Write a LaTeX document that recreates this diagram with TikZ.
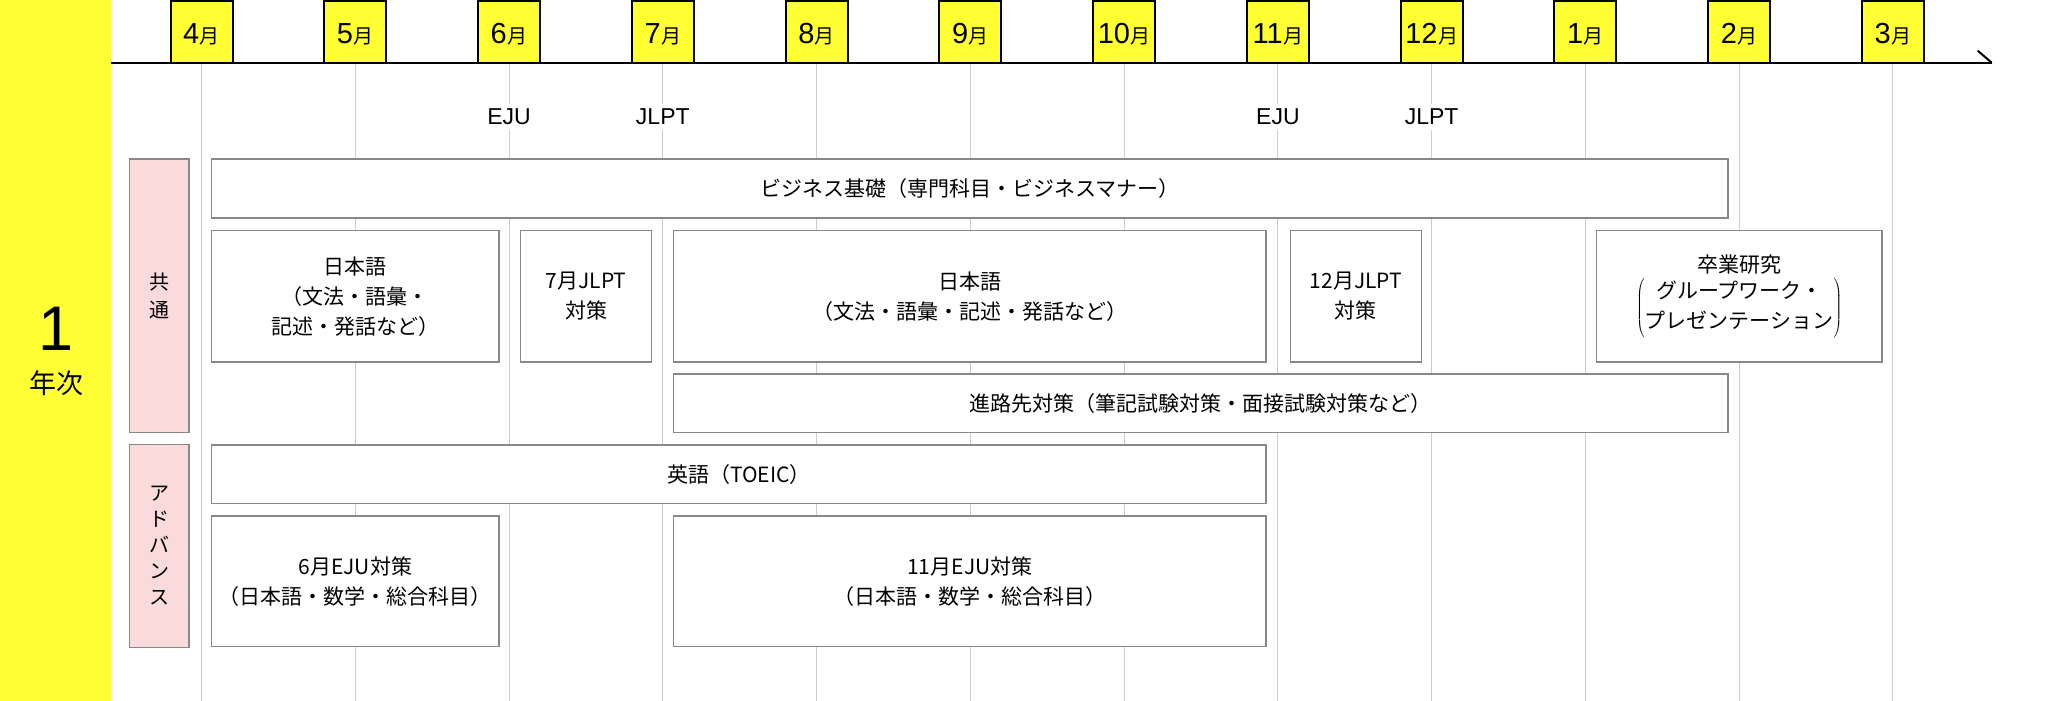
\documentclass[tikz,border=0pt]{standalone}
\usepackage{fontspec}
\setmainfont{Noto Sans CJK JP}
\newfontfamily\latinfont{Liberation Sans}
\definecolor{bandyellow}{RGB}{255,255,51}
\definecolor{pinkfill}{RGB}{250,218,218}
\definecolor{boxgray}{RGB}{136,136,136}
\definecolor{gridgray}{RGB}{204,204,204}
\begin{document}
\begin{tikzpicture}[x=1pt,y=-1pt,
  gridline/.style={draw=gridgray,line width=1pt},
  axisline/.style={draw=black,line width=2pt},
  monbox/.style={draw=black,line width=2pt,fill=bandyellow,minimum width=62pt,minimum height=61.9pt,inner sep=0pt,text height=23.1pt,text depth=0pt},
  evlabel/.style={fill=white,inner sep=5pt,font=\latinfont\fontsize{23}{23}\selectfont},
  box/.style={draw=boxgray,line width=1.5pt,fill=white,inner sep=0pt,align=center,font=\fontsize{21}{30}\selectfont},
  pinkbox/.style={draw=boxgray,line width=1.5pt,fill=pinkfill,inner sep=0pt,align=center,minimum width=59.5pt}
]
\useasboundingbox (0,0) rectangle (2072,701);
\fill[white] (0,0) rectangle (2072,701);
% left band
\fill[bandyellow] (0,0) rectangle (110.7,701);
\node[anchor=base,inner sep=0pt,font=\latinfont\fontsize{63}{63}\selectfont] (yearnum) at (56,350) {1};
\node[anchor=base,inner sep=0pt,font=\fontsize{27}{27}\selectfont] (yearlab) at (56,393) {年次};
% grid lines
\foreach \k in {0,...,11}{
  \draw[gridline] ({201.5+153.77*\k},62.7) -- ({201.5+153.77*\k},701);
}
% axis
\coordinate (axstart) at (110.7,62.7);
\coordinate (axend) at (1991.7,62.7);
\coordinate (axtick) at (1977.7,50.7);
\draw[axisline] (axstart) -- (axend);
\draw[axisline] (axtick) -- (axend);
% month boxes
\foreach \k/\lab/\nm in {0/4/m4,1/5/m5,2/6/m6,3/7/m7,4/8/m8,5/9/m9,6/10/m10,7/11/m11,8/12/m12,9/1/m1,10/2/m2,11/3/m3}{
  \node[monbox] (\nm) at ({201.5+153.77*\k},31.75) {\latinfont\fontsize{29}{29}\selectfont\lab\kern0.5pt\fontspec{Noto Sans CJK JP}\fontsize{20}{20}\selectfont 月};
}
% event labels
\node[evlabel] (eju1) at ({201.5+153.77*2},117) {EJU};
\node[evlabel] (jlpt1) at ({201.5+153.77*3},117) {JLPT};
\node[evlabel] (eju2) at ({201.5+153.77*7},117) {EJU};
\node[evlabel] (jlpt2) at ({201.5+153.77*8},117) {JLPT};
% category boxes
\node[pinkbox,minimum height=273.7pt,font=\fontsize{20}{28}\selectfont] (common) at (159.25,295.85) {共\\通};
\node[pinkbox,minimum height=202.6pt,font=\fontsize{20}{26}\selectfont] (advance) at (159.25,546) {ア\\ド\\バ\\ン\\ス};
% course boxes
\node[box,minimum width=1516.4pt,minimum height=59pt] (biz) at (969.8,188.5) {ビジネス基礎（専門科目・ビジネスマナー）};
\node[box,minimum width=287.4pt,minimum height=131.5pt] (jp1) at (355.3,296.25) {日本語\\（文法・語彙・\\記述・発話など）};
\node[box,minimum width=131pt,minimum height=131.5pt] (jlpt7) at (586,296.25) {7月JLPT\\対策};
\node[box,minimum width=592.3pt,minimum height=131.5pt] (jp2) at (969.85,296.25) {日本語\\（文法・語彙・記述・発話など）};
\node[box,minimum width=130.9pt,minimum height=131.5pt] (jlpt12) at (1355.95,296.25) {12月JLPT\\対策};
\node[box,minimum width=285.5pt,minimum height=131.5pt] (grad) at (1739.25,296.25) {卒業研究\\[3pt]$\left(\begin{tabular}{@{}c@{}}グループワーク・\\プレゼンテーション\end{tabular}\right)$};
\node[box,minimum width=1054.3pt,minimum height=58.7pt] (career) at (1200.85,403.35) {進路先対策（筆記試験対策・面接試験対策など）};
\node[box,minimum width=1054.4pt,minimum height=58.5pt] (eng) at (738.8,474.25) {英語（TOEIC）};
\node[box,minimum width=287.4pt,minimum height=130.7pt] (eju6) at (355.3,581.35) {6月EJU対策\\（日本語・数学・総合科目）};
\node[box,minimum width=592.3pt,minimum height=130.7pt] (eju11) at (969.85,581.35) {11月EJU対策\\（日本語・数学・総合科目）};
\end{tikzpicture}
\end{document}
